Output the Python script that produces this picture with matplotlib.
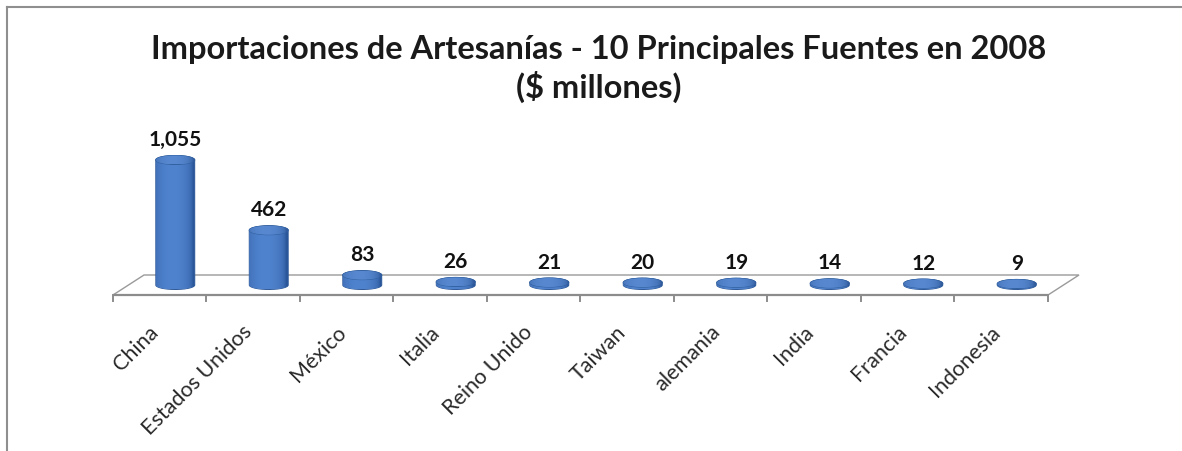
import numpy as np
import matplotlib
matplotlib.use("Agg")
import matplotlib.pyplot as plt
from matplotlib.patches import PathPatch, Ellipse, Polygon
from matplotlib.path import Path
from matplotlib.lines import Line2D
from matplotlib.colors import to_rgb

categories = ["China", "Estados Unidos", "México", "Italia", "Reino Unido",
              "Taiwan", "alemania", "India", "Francia", "Indonesia"]
values = [1055, 462, 83, 26, 21, 20, 19, 14, 12, 9]
title_lines = ["Importaciones de Artesanías - 10 Principales Fuentes en 2008",
               "($ millones)"]

plt.rcParams["font.family"] = ["Lato", "DejaVu Sans"]

W, H = 1182, 451
fig = plt.figure(figsize=(W / 100, H / 100), dpi=100)
fig.patch.set_facecolor("white")
ax = fig.add_axes([0, 0, 1, 1])
ax.set_autoscale_on(False)
ax.axis("off")

# pixel layout of the plot floor
x0_px, step_px = 113.0, 93.5       # front-left corner, category width
base_px, unit_px = 285.0, 0.1185   # base line (from top), pixels per value unit
ax.set_xlim(-x0_px / step_px, (W - x0_px) / step_px)
ax.set_ylim(-(H - base_px) / unit_px, base_px / unit_px)

n = len(categories)
depth_x = 31 / step_px
depth_y = 20 / unit_px
rx = 19.5 / step_px
ry = 4.5 / unit_px

# floor parallelogram
floor = Polygon([(0, -depth_y / 2), (n, -depth_y / 2),
                 (n + depth_x, depth_y / 2), (depth_x, depth_y / 2)],
                closed=True, facecolor="white", edgecolor="#9a9a9a", lw=1.0, zorder=1)
ax.add_patch(floor)
ax.plot([0, n], [-depth_y / 2, -depth_y / 2], color="#8c8c8c", lw=1.6, zorder=2,
        solid_capstyle="butt")
tick_len = 6 / unit_px
for k in range(n + 1):
    ax.plot([k, k], [-depth_y / 2, -depth_y / 2 - tick_len], color="#8c8c8c", lw=1.4, zorder=2)

# colour profile across the cylinder face
dark = np.array(to_rgb("#2a569a"))
light = np.array(to_rgb("#5083ce"))


def gradient(lighten=0.0):
    t = np.linspace(-1, 1, 200)
    w = np.clip(1 - ((t + 0.15) / 1.05) ** 2, 0, 1) ** 0.5
    cols = dark[None, :] * (1 - w[:, None]) + light[None, :] * w[:, None]
    cols = cols + lighten * (1 - cols)
    return np.clip(cols[None, :, :], 0, 1)


for i, v in enumerate(values):
    cx = i + 0.5 + depth_x / 2
    th_b = np.linspace(np.pi, 2 * np.pi, 80)
    th_t = np.linspace(0, np.pi, 80)
    xs = np.concatenate([[cx - rx], cx + rx * np.cos(th_b), [cx + rx], cx + rx * np.cos(th_t)])
    ys = np.concatenate([[v], ry * np.sin(th_b), [v], v + ry * np.sin(th_t)])
    body = PathPatch(Path(np.column_stack([xs, ys])), facecolor="none",
                     edgecolor="#2a5595", lw=0.7, zorder=3)
    ax.add_patch(body)
    im = ax.imshow(gradient(), extent=[cx - rx, cx + rx, -ry, v + ry], aspect="auto",
                   origin="lower", zorder=3, interpolation="bilinear")
    im.set_clip_path(body)

    top = Ellipse((cx, v), 2 * rx, 2 * ry, facecolor="none", edgecolor="#30609f",
                  lw=0.7, zorder=4)
    ax.add_patch(top)
    im2 = ax.imshow(gradient(lighten=0.04), extent=[cx - rx, cx + rx, v - ry, v + ry],
                    aspect="auto", origin="lower", zorder=4, interpolation="bilinear")
    im2.set_clip_path(top)

    ax.annotate(f"{v:,}", (cx, v), xytext=(0, 14), textcoords="offset pixels",
                ha="center", va="baseline", fontsize=15, fontweight="bold",
                color="#111111", zorder=5)

    ax.annotate(categories[i], (i + 0.5, -depth_y / 2), xytext=(3, -27),
                textcoords="offset pixels", ha="right", va="top", rotation=45,
                fontsize=15.5, color="#2a2a2a", zorder=5)

title_x = 0.5 + 8 / W
fig.text(title_x, 1 - 50 / H, title_lines[0], ha="center", va="center",
         fontsize=23.5, fontweight="bold", color="#1a1a1a")
fig.text(title_x, 1 - 87 / H, title_lines[1], ha="center", va="center",
         fontsize=23.5, fontweight="bold", color="#1a1a1a")

# chart frame
fig.add_artist(Line2D([7 / W, 1], [1 - 6.5 / H, 1 - 6.5 / H], color="#8f8f8f", lw=1.5))
fig.add_artist(Line2D([7 / W, 7 / W], [0, 1 - 6.5 / H], color="#8f8f8f", lw=1.5))

fig.savefig("out.png", dpi=100, facecolor="white")
